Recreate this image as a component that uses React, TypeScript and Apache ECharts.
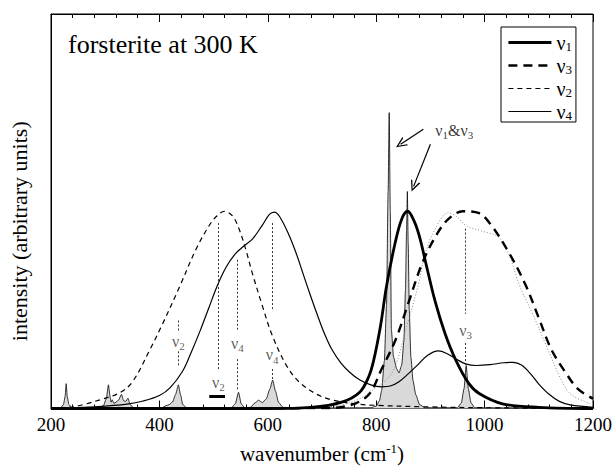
import React, { useEffect, useRef } from "react";
import * as echarts from "echarts";

const FONT = "Liberation Serif, Times New Roman, serif";

// wavenumber (cm^-1) and intensity (arbitrary units, 0..100 full height)
const nu1W = [200, 600, 680, 738, 770, 786, 795, 808, 819, 835, 847, 858, 870, 880, 893, 909, 927, 946, 970, 990, 1033, 1100, 1200];
const nu1Y = [0, 0, 0.3, 1.7, 4.2, 8.0, 12, 21, 31, 42, 48, 50, 47.5, 43.5, 36, 27, 19, 12.5, 6.5, 3.8, 1.2, 0.3, 0];

const nu3W = [200, 700, 751, 786, 810, 836, 860, 884, 909, 933, 960, 990, 1012, 1044, 1075, 1099, 1123, 1149, 1172, 1200];
const nu3Y = [0, 0.1, 0.8, 3.5, 10, 17.5, 27, 36.5, 43.5, 48, 50, 49.5, 46.5, 39.7, 31.5, 23.3, 15, 9.2, 5, 2.5];

const nu2W = [200, 235, 260, 290, 327, 351, 382, 406, 437, 468, 492, 506, 520, 535, 547, 560, 571, 590, 608, 634, 658, 689, 718, 760, 800, 900, 1000, 1200];
const nu2Y = [0.1, 0.3, 1.0, 2.2, 4.0, 6.9, 14.8, 21.5, 30.8, 40.5, 46.4, 48.8, 50, 48.8, 45.5, 40, 34.5, 26, 18.6, 11, 6.7, 3.7, 2.2, 1.2, 0.8, 0.4, 0.2, 0];

const nu4W = [200, 260, 300, 340, 370, 400, 420, 443, 458, 476, 492, 507, 523, 540, 556, 572, 590, 603, 612, 622, 639, 652, 665, 679, 692, 705, 718, 735, 751, 770, 790, 810, 826, 842, 860, 876, 895, 915, 932, 948, 965, 985, 1010, 1035, 1053, 1068, 1086, 1100, 1119, 1138, 1158, 1200];
const nu4Y = [0.1, 0.3, 0.6, 1.1, 1.9, 3.3, 5.3, 9.5, 14, 20, 25.8, 31.2, 35.8, 39.2, 41.2, 43, 46.5, 49.2, 49.8, 48.6, 44, 39.5, 34.2, 28.5, 23.5, 18.8, 15, 11.5, 9.2, 7.2, 6, 5.5, 5.7, 6.8, 8.9, 11, 13.5, 14.6, 13.8, 12.5, 11.3, 10.9, 11.1, 11.6, 11.7, 11, 8.6, 6.2, 3.6, 1.8, 0.9, 0.3];

// dotted grey curve (total high-frequency band)
const obsW = [650, 700, 740, 770, 792, 829, 854, 878, 890, 909, 933, 950, 965, 994, 1025, 1045, 1065, 1086, 1117, 1141, 1160, 1200];
const obsY = [0.1, 0.3, 1, 2.5, 4.5, 9, 19.8, 31.5, 39, 45.6, 49.6, 48.5, 46.4, 45, 43.5, 39, 31, 24.8, 14.9, 7.4, 3.5, 1];

// grey filled spectrum
const specW = [200, 218, 223, 226, 228, 230, 233, 238, 290, 297, 302, 306, 309, 311, 313, 316, 320, 325, 330, 334, 338, 342, 346, 352, 405, 412, 418, 424, 430, 435, 439, 443, 450, 533, 540, 546, 551, 557, 568, 576, 583, 590, 597, 604, 609, 614, 620, 628, 650, 790, 800, 806, 810, 815, 819, 822, 824, 826, 828, 832, 838, 842, 847, 851, 854, 856, 857.5, 859, 861, 864, 868, 873, 880, 890, 950, 957, 962, 966, 970, 975, 982, 1200];
const specY = [0, 0.2, 1, 3, 6.3, 3, 1, 0.2, 0.2, 0.8, 2.5, 6, 3, 1.6, 2.2, 1.3, 1.6, 2.2, 3.6, 2, 1.8, 2.6, 1, 0.2, 0.2, 0.7, 1, 1.6, 3.6, 6, 3.5, 1, 0.2, 0.2, 1.2, 4.1, 1.2, 0.2, 0.3, 1.4, 2.1, 1.5, 2.4, 5, 7.2, 4.5, 1.5, 0.3, 0.1, 0.2, 0.6, 2, 4.5, 12, 26, 55, 75, 50, 20, 13, 10, 9, 11, 17, 30, 45, 55, 42, 25, 13, 7, 3.5, 1, 0.2, 0.2, 1.4, 5, 10.9, 5, 1.4, 0.2, 0];

const xTicks = [200, 1200, 200];

// legend order
const legendNames = ["ν1", "ν3", "ν2", "ν4"];

// annotation labels: subscript, wavenumber, intensity
const annSub = ["2", "2", "4", "4", "3"];
const annW = [435, 509, 544, 608, 965];
const annY = [17, 6.7, 16.5, 13.6, 19.8];
// dotted annotation segments: wavenumber, from, to
const segW = [435, 435, 509, 544, 544, 608, 608, 965, 965];
const segFrom = [22.3, 14.5, 47, 37.7, 12.5, 47, 10, 45.6, 16.6];
const segTo = [19.6, 10.5, 9.6, 20, 4.6, 24.8, 7.4, 24, 11];
// bar under the low nu2 label
const barW = [492, 521];
const barY = 3;
// arrows for nu1&nu3
const arrowFromW = [887, 900];
const arrowFromY = [70.8, 67];
const arrowToW = [845, 869];
const arrowToY = [67, 56.3];
const pairLabelW = 909;
const pairLabelY = 70.5;

const zip = (w: number[], y: number[]) => w.map((x, i) => [x, y[i]]);

export default function App() {
  const ref = useRef<HTMLDivElement>(null);
  useEffect(() => {
    const chart = echarts.init(ref.current!, null, { renderer: "svg" });
    const ink = "#000";
    const annColor = "#333";
    const styles: Record<string, any> = {
      "ν1": { color: ink, width: 2.8, type: "solid" },
      "ν3": { color: ink, width: 2.4, type: [9, 6] },
      "ν2": { color: ink, width: 1.2, type: [5, 4] },
      "ν4": { color: ink, width: 1.2, type: "solid" },
    };
    const smallRich = {
      n: { fontFamily: FONT, fontSize: 16, lineHeight: 16, color: annColor },
      s: { fontFamily: FONT, fontSize: 11, lineHeight: 10, padding: [10, 0, 0, 0], color: annColor },
    };
    const axisCommon = {
      type: "value",
      min: xTicks[0],
      max: xTicks[1],
      interval: xTicks[2],
      axisLine: { show: true, lineStyle: { color: ink, width: 1 } },
      axisTick: { show: true, inside: true, length: 8, lineStyle: { color: ink } },
      minorTick: { show: true, splitNumber: 5, length: 4, lineStyle: { color: ink } },
      splitLine: { show: false },
      minorSplitLine: { show: false },
    };
    const lineBase = {
      type: "line",
      symbol: "none",
      showSymbol: false,
      smooth: 0.35,
      silent: true,
      itemStyle: { color: ink },
    };
    const option: any = {
      animation: false,
      backgroundColor: "#fff",
      title: {
        text: "forsterite at 300 K",
        left: 68,
        top: 31,
        padding: 0,
        textStyle: { fontFamily: FONT, fontSize: 26, fontWeight: "normal", color: ink },
      },
      grid: { left: 51, right: 20, top: 14, bottom: 53, show: true, borderColor: ink, borderWidth: 1, backgroundColor: "transparent" },
      legend: {
        data: legendNames.map((n) => ({ name: n, lineStyle: { ...styles[n] } })),
        orient: "vertical",
        left: 501,
        top: 27,
        padding: [5, 4, 0, 6],
        itemGap: 2,
        itemWidth: 43,
        itemHeight: 14,
        backgroundColor: "#fff",
        borderColor: ink,
        borderWidth: 1,
        borderRadius: 0,
        itemStyle: { opacity: 0 },
        formatter: (name: string) => `{n|ν}{s|${name.slice(1)}}`,
        textStyle: {
          rich: {
            n: { fontFamily: FONT, fontSize: 20, lineHeight: 18, color: ink },
            s: { fontFamily: FONT, fontSize: 13, lineHeight: 12, padding: [8, 0, 0, 0], color: ink },
          },
        },
      },
      xAxis: [
        {
          ...axisCommon,
          position: "bottom",
          name: "{a|wavenumber (cm}{p|-1}{a|)}",
          nameLocation: "middle",
          nameGap: 34,
          nameTextStyle: {
            rich: {
              a: { fontFamily: FONT, fontSize: 21, lineHeight: 22, color: ink },
              p: { fontFamily: FONT, fontSize: 13, lineHeight: 13, padding: [0, 0, 10, 0], color: ink },
            },
          },
          axisLabel: {
            show: true,
            fontFamily: FONT,
            fontSize: 19,
            color: ink,
            margin: 6,
            formatter: (v: number) => String(v),
          },
        },
        {
          ...axisCommon,
          position: "top",
          axisLabel: { show: false },
        },
      ],
      yAxis: {
        type: "value",
        min: 0,
        max: 100,
        name: "intensity (arbitrary units)",
        nameLocation: "middle",
        nameGap: 21,
        nameTextStyle: { fontFamily: FONT, fontSize: 22, color: ink, padding: [0, 40, 0, 0] },
        axisLine: { show: true, lineStyle: { color: ink } },
        axisTick: { show: false },
        axisLabel: { show: false },
        splitLine: { show: false },
      },
      series: [
        {
          ...lineBase,
          name: "spectrum",
          smooth: 0.2,
          smoothMonotone: "x",
          data: zip(specW, specY),
          lineStyle: { color: ink, width: 0.8 },
          areaStyle: { color: "#d9d9d9", opacity: 1 },
          z: 1,
        },
        {
          ...lineBase,
          name: "total",
          data: zip(obsW, obsY),
          lineStyle: { color: "#888", width: 1, type: [1, 2] },
          z: 2,
        },
        { ...lineBase, name: "ν4", data: zip(nu4W, nu4Y), lineStyle: styles["ν4"], z: 3 },
        { ...lineBase, name: "ν2", data: zip(nu2W, nu2Y), lineStyle: styles["ν2"], z: 3 },
        { ...lineBase, name: "ν3", data: zip(nu3W, nu3Y), lineStyle: styles["ν3"], z: 4 },
        { ...lineBase, name: "ν1", data: zip(nu1W, nu1Y), lineStyle: styles["ν1"], z: 5 },
        {
          type: "scatter",
          name: "annotations",
          symbolSize: 0,
          silent: true,
          z: 6,
          data: annW.map((w, i) => ({ value: [w, annY[i]], name: annSub[i] })),
          label: {
            show: true,
            position: "inside",
            formatter: (p: any) => `{n|ν}{s|${p.name}}`,
            rich: smallRich,
          },
          markLine: {
            silent: true,
            symbol: "none",
            label: { show: false },
            lineStyle: { color: annColor, width: 1, type: [2, 2] },
            data: [
              ...segW.map((w, i) => [
                { coord: [w, segFrom[i]] },
                { coord: [w, segTo[i]] },
              ]),
              [
                { coord: [barW[0], barY], lineStyle: { type: "solid", width: 3, color: ink } },
                { coord: [barW[1], barY] },
              ],
            ],
          },
        },
        {
          type: "scatter",
          name: "pair",
          symbolSize: 0,
          silent: true,
          z: 6,
          data: [{ value: [pairLabelW, pairLabelY] }],
          label: {
            show: true,
            position: "right",
            distance: 0,
            formatter: () => "{n|ν}{s|1}{n|&ν}{s|3}",
            rich: {
              n: { fontFamily: FONT, fontSize: 16, lineHeight: 16, color: ink },
              s: { fontFamily: FONT, fontSize: 11, lineHeight: 10, padding: [10, 0, 0, 0], color: ink },
            },
          },
          markLine: {
            silent: true,
            symbol: ["none", "path://M0,10 L5,0 L10,10 L8.6,10 L5,2.6 L1.4,10 Z"],
            symbolSize: [10, 11],
            label: { show: false },
            lineStyle: { color: ink, width: 1.2, type: "solid" },
            data: arrowFromW.map((w, i) => [
              { coord: [w, arrowFromY[i]] },
              { coord: [arrowToW[i], arrowToY[i]] },
            ]),
          },
        },
      ],
    };
    chart.setOption(option);
    return () => chart.dispose();
  }, []);
  return <div ref={ref} style={{ position: "absolute", left: 0, top: 0, width: 615, height: 470 }} />;
}
